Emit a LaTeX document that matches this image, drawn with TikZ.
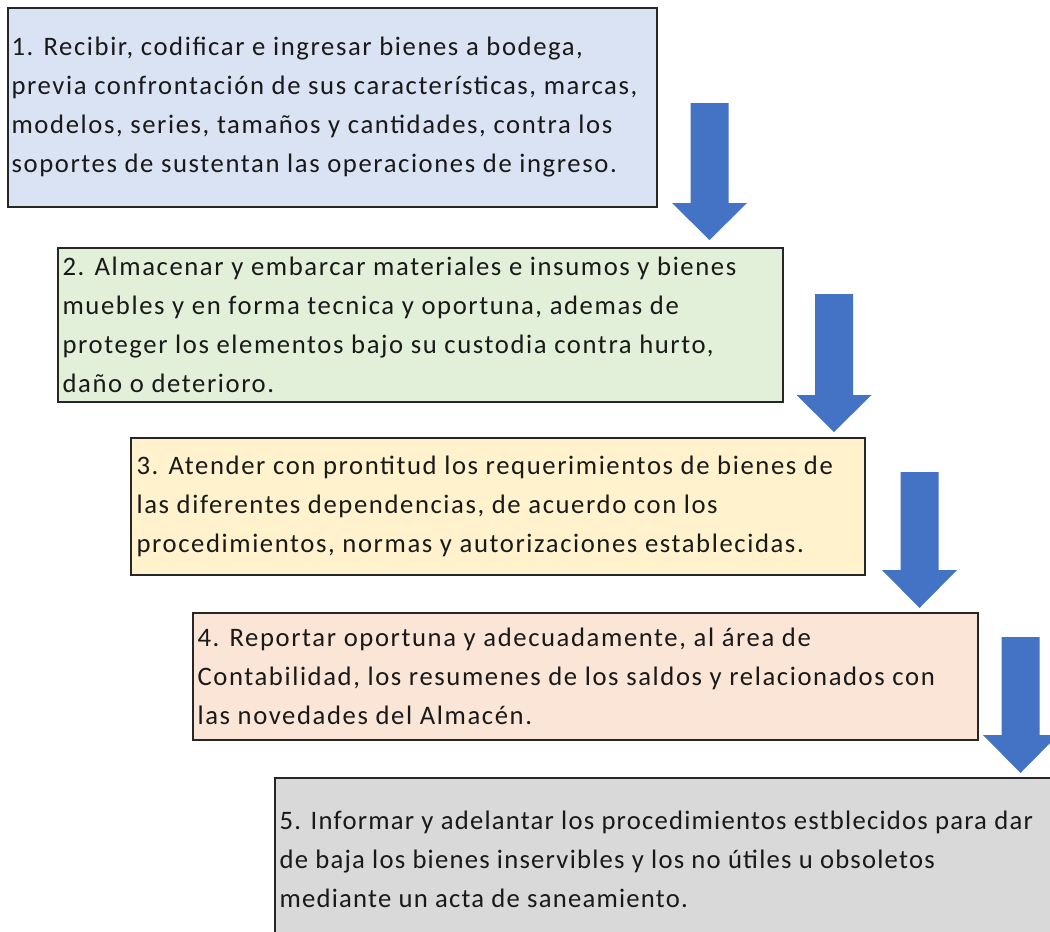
\documentclass[tikz,border=0pt]{standalone}
\usepackage{fontspec}
\setmainfont{Carlito}[LetterSpace=6.0]
\definecolor{cblue}{HTML}{DAE3F3}
\definecolor{cgreen}{HTML}{E2F0D9}
\definecolor{cyellow}{HTML}{FFF2CC}
\definecolor{cpeach}{HTML}{FBE5D6}
\definecolor{cgray}{HTML}{D9D9D9}
\definecolor{arrowblue}{HTML}{4472C4}
\newcommand\blkarrow[4]{%
  \fill[arrowblue] (#1-19,#2) -- (#1+19,#2) -- (#1+19,#3) -- (#1+37.5,#3) -- (#1,#4) -- (#1-37.5,#3) -- (#1-19,#3) -- cycle;}
\tikzset{
  stepbox/.style={draw=black!85, line width=1pt, rectangle, inner sep=0pt},
  steptext/.style={anchor=west, inner sep=0pt, align=left, text=black!90,
    font=\fontsize{20pt}{29.25pt}\selectfont},
}
\begin{document}
\begin{tikzpicture}[x=0.75pt,y=-0.75pt]
\useasboundingbox (0,0) rectangle (1050,932);
\fill[white] (0,0) rectangle (1050,932);
% boxes
\node[stepbox, fill=cblue, minimum width=649*0.75pt, minimum height=199*0.75pt] (b1) at (332.5,107.5) {};
\node[stepbox, fill=cgreen, minimum width=725*0.75pt, minimum height=154*0.75pt] (b2) at (420.5,325) {};
\node[stepbox, fill=cyellow, minimum width=734*0.75pt, minimum height=137*0.75pt] (b3) at (498,506.5) {};
\node[stepbox, fill=cpeach, minimum width=785*0.75pt, minimum height=127*0.75pt] (b4) at (585.5,676.5) {};
\node[stepbox, fill=cgray, minimum width=787*0.75pt, minimum height=162*0.75pt] (b5) at (668.5,859) {};
% texts
\node[steptext] (t1) at ([xshift=3pt]b1.west) {1. Recibir, codificar e ingresar bienes a bodega,\\previa confrontación de sus características, marcas,\\modelos, series, tamaños y cantidades, contra los\\soportes de sustentan las operaciones de ingreso.};
\node[steptext] (t2) at ([xshift=3.75pt]b2.west) {2. Almacenar y embarcar materiales e insumos y bienes\\muebles y en forma tecnica y oportuna, ademas de\\proteger los elementos bajo su custodia contra hurto,\\daño o deterioro.};
\node[steptext] (t3) at ([xshift=4.5pt]b3.west) {3. Atender con prontitud los requerimientos de bienes de\\las diferentes dependencias, de acuerdo con los\\procedimientos, normas y autorizaciones establecidas.};
\node[steptext] (t4) at ([xshift=3.75pt]b4.west) {4. Reportar oportuna y adecuadamente, al área de\\Contabilidad, los resumenes de los saldos y relacionados con\\las novedades del Almacén.};
\node[steptext, font=\fontsize{20pt}{29.25pt}\selectfont\addfontfeature{LetterSpace=4.6}] (t5) at ([xshift=3.75pt]b5.west) {5. Informar y adelantar los procedimientos estblecidos para dar\\de baja los bienes inservibles y los no útiles u obsoletos\\mediante un acta de saneamiento.};
% arrows
\blkarrow{709.5}{103}{203}{240}
\blkarrow{834}{294}{395}{432}
\blkarrow{919.5}{472}{570}{608}
\blkarrow{1020.5}{637}{735}{773}
\end{tikzpicture}
\end{document}
